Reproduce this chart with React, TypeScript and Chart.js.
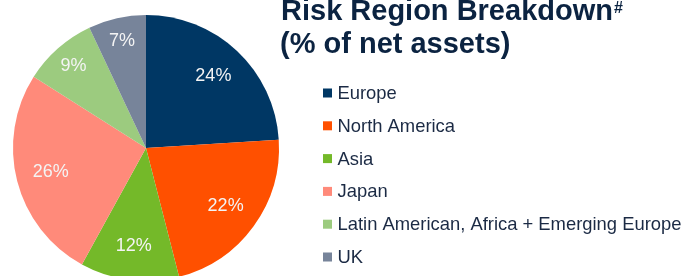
import React, { useEffect, useRef } from "react";
import { Chart, registerables } from "chart.js";

Chart.register(...registerables);

const regions = [
  "Europe",
  "North America",
  "Asia",
  "Japan",
  "Latin American, Africa + Emerging Europe",
  "UK",
];
const shares = [24, 22, 12, 26, 9, 7];
const sliceColors = ["#003764", "#FF5000", "#74B929", "#FF8A7A", "#9CCB7F", "#77849A"];
const titleLines = ["Risk Region Breakdown", "(% of net assets)"];
const titleMark = "#";

const W = 689;
const H = 300;

const overlayPlugin = {
  id: "overlay",
  afterDraw(chart: any) {
    const ctx = chart.ctx as CanvasRenderingContext2D;
    const meta = chart.getDatasetMeta(0);
    const data = chart.data.datasets[0].data as number[];
    const total = data.reduce((a, b) => a + b, 0);

    // data labels
    ctx.save();
    ctx.fillStyle = "#F4F4F4";
    ctx.font = '18px "Liberation Sans", Arial, sans-serif';
    ctx.textAlign = "center";
    ctx.textBaseline = "middle";
    meta.data.forEach((arc: any, i: number) => {
      const p = arc.getProps(["x", "y", "startAngle", "endAngle", "outerRadius"], true);
      const mid = (p.startAngle + p.endAngle) / 2;
      const frac = data[i] / total;
      const f = frac < 0.1 ? 0.825 : 0.74;
      const r = p.outerRadius * f;
      ctx.fillText(data[i] + "%", p.x + Math.cos(mid) * r, p.y + Math.sin(mid) * r);
    });
    ctx.restore();

    // title
    ctx.save();
    ctx.fillStyle = "#0B2341";
    ctx.textAlign = "left";
    ctx.textBaseline = "alphabetic";
    ctx.font = 'bold 29px "Liberation Sans", Arial, sans-serif';
    ctx.fillText(titleLines[0], 281, 20);
    const w0 = ctx.measureText(titleLines[0]).width;
    ctx.fillText(titleLines[1], 280, 53);
    ctx.font = 'bold 16px "Liberation Sans", Arial, sans-serif';
    ctx.fillText(titleMark, 281 + w0 + 1, 13);
    ctx.restore();

    // legend
    ctx.save();
    ctx.font = '18.4px "Liberation Sans", Arial, sans-serif';
    ctx.textAlign = "left";
    ctx.textBaseline = "middle";
    const labels = chart.data.labels as string[];
    const colors = chart.data.datasets[0].backgroundColor as string[];
    labels.forEach((lab, i) => {
      const cy = 93 + i * 32.8;
      ctx.fillStyle = colors[i];
      ctx.fillRect(323, cy - 4.5, 9, 9);
      ctx.fillStyle = "#1B2A44";
      ctx.fillText(lab, 337.5, cy + 1);
    });
    ctx.restore();
  },
};

export default function App() {
  const ref = useRef<HTMLCanvasElement | null>(null);
  useEffect(() => {
    if (!ref.current) return;
    const chart = new Chart(ref.current, {
      type: "pie",
      data: {
        labels: regions,
        datasets: [
          {
            data: shares,
            backgroundColor: sliceColors,
            borderWidth: 0,
          },
        ],
      },
      options: {
        responsive: false,
        animation: false,
        devicePixelRatio: 1,
        layout: { padding: { left: 13, top: 15, right: W - 279, bottom: H - 281 } },
        plugins: {
          legend: { display: false },
          tooltip: { enabled: false },
          title: { display: false },
        },
      },
      plugins: [overlayPlugin],
    });
    return () => chart.destroy();
  }, []);
  return (
    <div
      style={{
        position: "fixed",
        left: 0,
        top: 0,
        width: W,
        height: 276,
        overflow: "hidden",
        background: "#fff",
      }}
    >
      <canvas ref={ref} width={W} height={H} style={{ display: "block", width: W, height: H }} />
    </div>
  );
}
